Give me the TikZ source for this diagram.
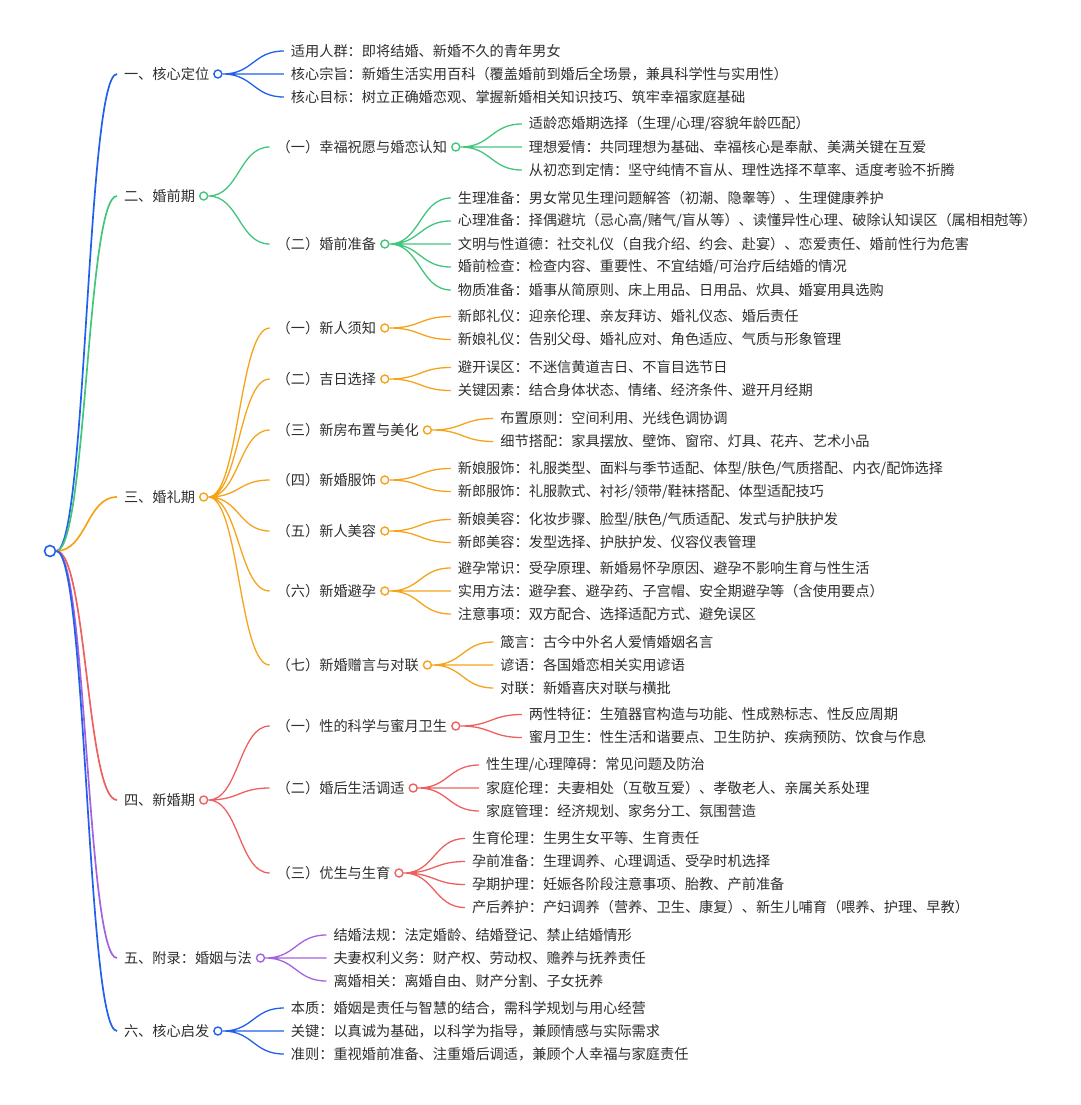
\documentclass[tikz,border=0pt]{standalone}
\usepackage{fontspec}
\setmainfont{Noto Sans CJK SC}
\usepackage{tikz}
\usetikzlibrary{calc,positioning,backgrounds}

\definecolor{mapblue}{HTML}{2160EC}
\definecolor{mapgreen}{HTML}{42C57D}
\definecolor{maporange}{HTML}{F5A31B}
\definecolor{mapred}{HTML}{EE5F5F}
\definecolor{mappurple}{HTML}{A461E0}
\definecolor{inkgray}{HTML}{2E2E2E}

\begin{document}
\begin{tikzpicture}[
  x=1pt, y=-1pt,
  topic/.style={anchor=west, inner sep=0pt, outer xsep=7pt, text=inkgray,
    font=\fontsize{14.2}{17}\selectfont},
  dot/.style={circle, draw=#1, fill=white, line width=1.4pt,
    inner sep=0pt, minimum size=8pt},
  link/.style={draw=#1, line width=1.3pt, to path={
    let \p1=(\tikztostart), \p2=(\tikztotarget) in
    .. controls ({(\x1+\x2)/2},\y1) and ({(\x1+\x2)/2},\y2) .. (\tikztotarget)}}
]
  \useasboundingbox (0,0) rectangle (1080,1105);

  % Root
  \node[dot=mapblue, minimum size=11pt, line width=1.6pt] (root) at (50,551) {};

  % 一、核心定位
  \node[topic] (s1) at ($(root)+(67,-477)$) {一、核心定位};
  \node[dot=mapblue, right=-3pt of s1] (d1) {};
  \node[topic] (s1a) at ($(d1)+(66,-23)$) {适用人群：即将结婚、新婚不久的青年男女};
  \node[topic] (s1b) at ($(d1)+(66,0)$) {核心宗旨：新婚生活实用百科（覆盖婚前到婚后全场景，兼具科学性与实用性）};
  \node[topic] (s1c) at ($(d1)+(66,23)$) {核心目标：树立正确婚恋观、掌握新婚相关知识技巧、筑牢幸福家庭基础};

  % 二、婚前期
  \node[topic] (s2) at ($(root)+(67,-355)$) {二、婚前期};
  \node[dot=mapgreen, right=-3pt of s2] (d2) {};
  \node[topic] (s21) at ($(d2)+(66,-49)$) {（一）幸福祝愿与婚恋认知};
  \node[dot=mapgreen, right=-3pt of s21] (d21) {};
  \node[topic] (s21a) at ($(d21)+(66,-23)$) {适龄恋婚期选择（生理/心理/容貌年龄匹配）};
  \node[topic] (s21b) at ($(d21)+(66,0)$) {理想爱情：共同理想为基础、幸福核心是奉献、美满关键在互爱};
  \node[topic] (s21c) at ($(d21)+(66,23)$) {从初恋到定情：坚守纯情不盲从、理性选择不草率、适度考验不折腾};
  \node[topic] (s22) at ($(d2)+(66,48)$) {（二）婚前准备};
  \node[dot=mapgreen, right=-3pt of s22] (d22) {};
  \node[topic] (s22a) at ($(d22)+(66,-46)$) {生理准备：男女常见生理问题解答（初潮、隐睾等）、生理健康养护};
  \node[topic] (s22b) at ($(d22)+(66,-23)$) {心理准备：择偶避坑（忌心高/赌气/盲从等）、读懂异性心理、破除认知误区（属相相尅等）};
  \node[topic] (s22c) at ($(d22)+(66,0)$) {文明与性道德：社交礼仪（自我介绍、约会、赴宴）、恋爱责任、婚前性行为危害};
  \node[topic] (s22d) at ($(d22)+(66,23)$) {婚前检查：检查内容、重要性、不宜结婚/可治疗后结婚的情况};
  \node[topic] (s22e) at ($(d22)+(66,46)$) {物质准备：婚事从简原则、床上用品、日用品、炊具、婚宴用具选购};

  % 三、婚礼期
  \node[topic] (s3) at ($(root)+(67,-54)$) {三、婚礼期};
  \node[dot=maporange, right=-3pt of s3] (d3) {};
  \node[topic] (s31) at ($(d3)+(66,-169)$) {（一）新人须知};
  \node[dot=maporange, right=-3pt of s31] (d31) {};
  \node[topic] (s31a) at ($(d31)+(66,-11.5)$) {新郎礼仪：迎亲伦理、亲友拜访、婚礼仪态、婚后责任};
  \node[topic] (s31b) at ($(d31)+(66,11.5)$) {新娘礼仪：告别父母、婚礼应对、角色适应、气质与形象管理};
  \node[topic] (s32) at ($(d3)+(66,-118)$) {（二）吉日选择};
  \node[dot=maporange, right=-3pt of s32] (d32) {};
  \node[topic] (s32a) at ($(d32)+(66,-11.5)$) {避开误区：不迷信黄道吉日、不盲目选节日};
  \node[topic] (s32b) at ($(d32)+(66,11.5)$) {关键因素：结合身体状态、情绪、经济条件、避开月经期};
  \node[topic] (s33) at ($(d3)+(66,-67)$) {（三）新房布置与美化};
  \node[dot=maporange, right=-3pt of s33] (d33) {};
  \node[topic] (s33a) at ($(d33)+(66,-11.5)$) {布置原则：空间利用、光线色调协调};
  \node[topic] (s33b) at ($(d33)+(66,11.5)$) {细节搭配：家具摆放、壁饰、窗帘、灯具、花卉、艺术小品};
  \node[topic] (s34) at ($(d3)+(66,-17)$) {（四）新婚服饰};
  \node[dot=maporange, right=-3pt of s34] (d34) {};
  \node[topic] (s34a) at ($(d34)+(66,-11.5)$) {新娘服饰：礼服类型、面料与季节适配、体型/肤色/气质搭配、内衣/配饰选择};
  \node[topic] (s34b) at ($(d34)+(66,11.5)$) {新郎服饰：礼服款式、衬衫/领带/鞋袜搭配、体型适配技巧};
  \node[topic] (s35) at ($(d3)+(66,34)$) {（五）新人美容};
  \node[dot=maporange, right=-3pt of s35] (d35) {};
  \node[topic] (s35a) at ($(d35)+(66,-11.5)$) {新娘美容：化妆步骤、脸型/肤色/气质适配、发式与护肤护发};
  \node[topic] (s35b) at ($(d35)+(66,11.5)$) {新郎美容：发型选择、护肤护发、仪容仪表管理};
  \node[topic] (s36) at ($(d3)+(66,94)$) {（六）新婚避孕};
  \node[dot=maporange, right=-3pt of s36] (d36) {};
  \node[topic] (s36a) at ($(d36)+(66,-23)$) {避孕常识：受孕原理、新婚易怀孕原因、避孕不影响生育与性生活};
  \node[topic] (s36b) at ($(d36)+(66,0)$) {实用方法：避孕套、避孕药、子宫帽、安全期避孕等（含使用要点）};
  \node[topic] (s36c) at ($(d36)+(66,23)$) {注意事项：双方配合、选择适配方式、避免误区};
  \node[topic] (s37) at ($(d3)+(66,168)$) {（七）新婚赠言与对联};
  \node[dot=maporange, right=-3pt of s37] (d37) {};
  \node[topic] (s37a) at ($(d37)+(66,-23)$) {箴言：古今中外名人爱情婚姻名言};
  \node[topic] (s37b) at ($(d37)+(66,0)$) {谚语：各国婚恋相关实用谚语};
  \node[topic] (s37c) at ($(d37)+(66,23)$) {对联：新婚喜庆对联与横批};

  % 四、新婚期
  \node[topic] (s4) at ($(root)+(67,249)$) {四、新婚期};
  \node[dot=mapred, right=-3pt of s4] (d4) {};
  \node[topic] (s41) at ($(d4)+(66,-74)$) {（一）性的科学与蜜月卫生};
  \node[dot=mapred, right=-3pt of s41] (d41) {};
  \node[topic] (s41a) at ($(d41)+(66,-11.5)$) {两性特征：生殖器官构造与功能、性成熟标志、性反应周期};
  \node[topic] (s41b) at ($(d41)+(66,11.5)$) {蜜月卫生：性生活和谐要点、卫生防护、疾病预防、饮食与作息};
  \node[topic] (s42) at ($(d4)+(66,-12)$) {（二）婚后生活调适};
  \node[dot=mapred, right=-3pt of s42] (d42) {};
  \node[topic] (s42a) at ($(d42)+(66,-23)$) {性生理/心理障碍：常见问题及防治};
  \node[topic] (s42b) at ($(d42)+(66,0)$) {家庭伦理：夫妻相处（互敬互爱）、孝敬老人、亲属关系处理};
  \node[topic] (s42c) at ($(d42)+(66,23)$) {家庭管理：经济规划、家务分工、氛围营造};
  \node[topic] (s43) at ($(d4)+(66,73)$) {（三）优生与生育};
  \node[dot=mapred, right=-3pt of s43] (d43) {};
  \node[topic] (s43a) at ($(d43)+(66,-34.5)$) {生育伦理：生男生女平等、生育责任};
  \node[topic] (s43b) at ($(d43)+(66,-11.5)$) {孕前准备：生理调养、心理调适、受孕时机选择};
  \node[topic] (s43c) at ($(d43)+(66,11.5)$) {孕期护理：妊娠各阶段注意事项、胎教、产前准备};
  \node[topic] (s43d) at ($(d43)+(66,34.5)$) {产后养护：产妇调养（营养、卫生、康复）、新生儿哺育（喂养、护理、早教）};

  % 五、附录
  \node[topic] (s5) at ($(root)+(67,407)$) {五、附录：婚姻与法};
  \node[dot=mappurple, right=-3pt of s5] (d5) {};
  \node[topic] (s5a) at ($(d5)+(66,-23)$) {结婚法规：法定婚龄、结婚登记、禁止结婚情形};
  \node[topic] (s5b) at ($(d5)+(66,0)$) {夫妻权利义务：财产权、劳动权、赡养与抚养责任};
  \node[topic] (s5c) at ($(d5)+(66,23)$) {离婚相关：离婚自由、财产分割、子女抚养};

  % 六、核心启发
  \node[topic] (s6) at ($(root)+(67,480)$) {六、核心启发};
  \node[dot=mapblue, right=-3pt of s6] (d6) {};
  \node[topic] (s6a) at ($(d6)+(66,-23)$) {本质：婚姻是责任与智慧的结合，需科学规划与用心经营};
  \node[topic] (s6b) at ($(d6)+(66,0)$) {关键：以真诚为基础，以科学为指导，兼顾情感与实际需求};
  \node[topic] (s6c) at ($(d6)+(66,23)$) {准则：重视婚前准备、注重婚后调适，兼顾个人幸福与家庭责任};

  % Branches behind the dots
  \begin{scope}[on background layer]
    \draw[link=mapblue, line width=1.7pt] (root.east) to (s1.west);
    \draw[link=mapgreen, line width=1.7pt] (root.east) to (s2.west);
    \draw[link=maporange, line width=1.7pt] (root.east) to (s3.west);
    \draw[link=mapred, line width=1.7pt] (root.east) to (s4.west);
    \draw[link=mappurple, line width=1.7pt] (root.east) to (s5.west);
    \draw[link=mapblue, line width=1.7pt] (root.east) to (s6.west);

    \draw[link=mapblue] (d1.east) to (s1a.west) (d1.east) to (s1b.west) (d1.east) to (s1c.west);

    \draw[link=mapgreen] (d2.east) to (s21.west) (d2.east) to (s22.west);
    \draw[link=mapgreen] (d21.east) to (s21a.west) (d21.east) to (s21b.west) (d21.east) to (s21c.west);
    \draw[link=mapgreen] (d22.east) to (s22a.west) (d22.east) to (s22b.west) (d22.east) to (s22c.west)
      (d22.east) to (s22d.west) (d22.east) to (s22e.west);

    \draw[link=maporange] (d3.east) to (s31.west) (d3.east) to (s32.west) (d3.east) to (s33.west)
      (d3.east) to (s34.west) (d3.east) to (s35.west) (d3.east) to (s36.west) (d3.east) to (s37.west);
    \draw[link=maporange] (d31.east) to (s31a.west) (d31.east) to (s31b.west);
    \draw[link=maporange] (d32.east) to (s32a.west) (d32.east) to (s32b.west);
    \draw[link=maporange] (d33.east) to (s33a.west) (d33.east) to (s33b.west);
    \draw[link=maporange] (d34.east) to (s34a.west) (d34.east) to (s34b.west);
    \draw[link=maporange] (d35.east) to (s35a.west) (d35.east) to (s35b.west);
    \draw[link=maporange] (d36.east) to (s36a.west) (d36.east) to (s36b.west) (d36.east) to (s36c.west);
    \draw[link=maporange] (d37.east) to (s37a.west) (d37.east) to (s37b.west) (d37.east) to (s37c.west);

    \draw[link=mapred] (d4.east) to (s41.west) (d4.east) to (s42.west) (d4.east) to (s43.west);
    \draw[link=mapred] (d41.east) to (s41a.west) (d41.east) to (s41b.west);
    \draw[link=mapred] (d42.east) to (s42a.west) (d42.east) to (s42b.west) (d42.east) to (s42c.west);
    \draw[link=mapred] (d43.east) to (s43a.west) (d43.east) to (s43b.west) (d43.east) to (s43c.west)
      (d43.east) to (s43d.west);

    \draw[link=mappurple] (d5.east) to (s5a.west) (d5.east) to (s5b.west) (d5.east) to (s5c.west);

    \draw[link=mapblue] (d6.east) to (s6a.west) (d6.east) to (s6b.west) (d6.east) to (s6c.west);
  \end{scope}
\end{tikzpicture}
\end{document}
